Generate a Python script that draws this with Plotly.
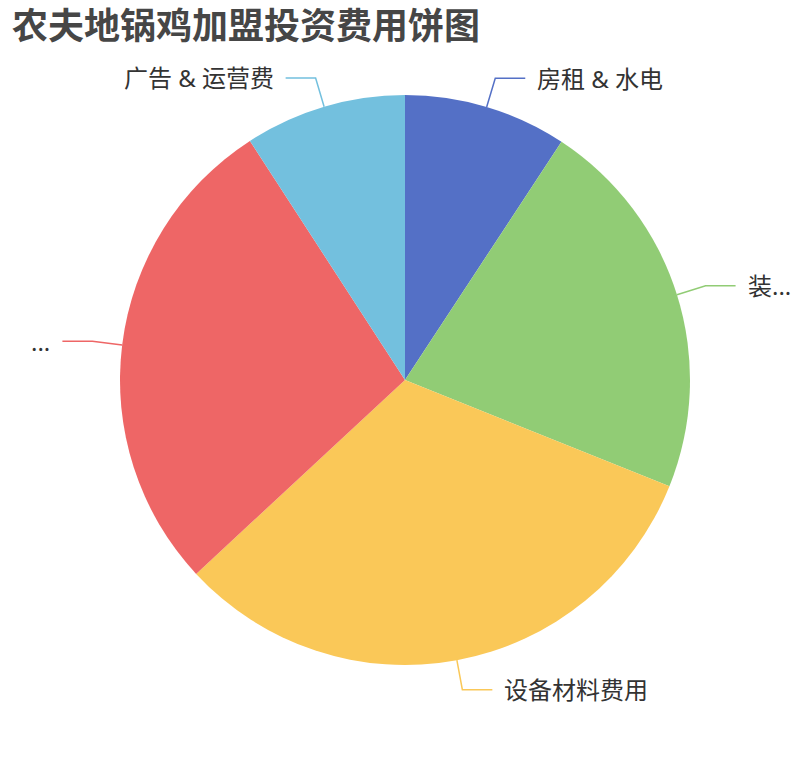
import math
import plotly.graph_objects as go

# ---- data ----
categories = ["房租 & 水电", "装修费用", "设备材料费用", "加盟费用", "广告 & 运营费"]
shown_labels = ["房租 & 水电", "装...", "设备材料费用", "...", "广告 & 运营费"]
values = [5, 11.8, 17.3, 15, 4.95]
colors = ["#5470c6", "#91cc75", "#fac858", "#ee6666", "#73c0de"]

# ---- layout constants (pixels) ----
W, H = 810, 760
CX, CY, R = 405, 380, 285
LEN1, LEN2, GAP = 30, 30, 10
FONT = "Noto Sans, Noto Sans CJK SC, sans-serif"

def px(x):
    return x / W

def py(y):
    return 1 - y / H

fig = go.Figure()
fig.add_trace(go.Pie(
    labels=categories,
    values=values,
    marker=dict(colors=colors, line=dict(width=0)),
    sort=False,
    direction="clockwise",
    rotation=0,
    textinfo="none",
    hoverinfo="label+value+percent",
    domain=dict(x=[px(CX - R), px(CX + R)], y=[py(CY + R), py(CY - R)]),
    showlegend=False,
))

total = sum(values)
shapes = []
annotations = []
cum = 0
for lab, v, c in zip(shown_labels, values, colors):
    mid = (cum + v / 2) / total * 2 * math.pi
    cum += v
    s, co = math.sin(mid), math.cos(mid)
    x0, y0 = CX + R * s, CY - R * co
    x1, y1 = CX + (R + LEN1) * s, CY - (R + LEN1) * co
    right = s >= 0
    x2 = x1 + (LEN2 if right else -LEN2)
    path = f"M {px(x0)} {py(y0)} L {px(x1)} {py(y1)} L {px(x2)} {py(y1)}"
    shapes.append(dict(type="path", path=path, xref="paper", yref="paper",
                       line=dict(color=c, width=1.5)))
    annotations.append(dict(
        text=lab, x=px(x2 + (GAP if right else -GAP)), y=py(y1),
        xref="paper", yref="paper",
        xanchor="left" if right else "right", yanchor="middle",
        showarrow=False, font=dict(family=FONT, size=24, color="#333333"),
    ))

annotations.append(dict(
    text="<b>农夫地锅鸡加盟投资费用饼图</b>", x=px(10), y=py(25),
    xref="paper", yref="paper", xanchor="left", yanchor="middle",
    showarrow=False, font=dict(family=FONT, size=36, color="#464646"),
))

fig.update_layout(
    width=W, height=H,
    margin=dict(l=0, r=0, t=0, b=0),
    paper_bgcolor="white", plot_bgcolor="white",
    shapes=shapes, annotations=annotations,
)

fig.write_html("out.html", config={"displayModeBar": False},
               post_script="document.body.style.margin='0';")
